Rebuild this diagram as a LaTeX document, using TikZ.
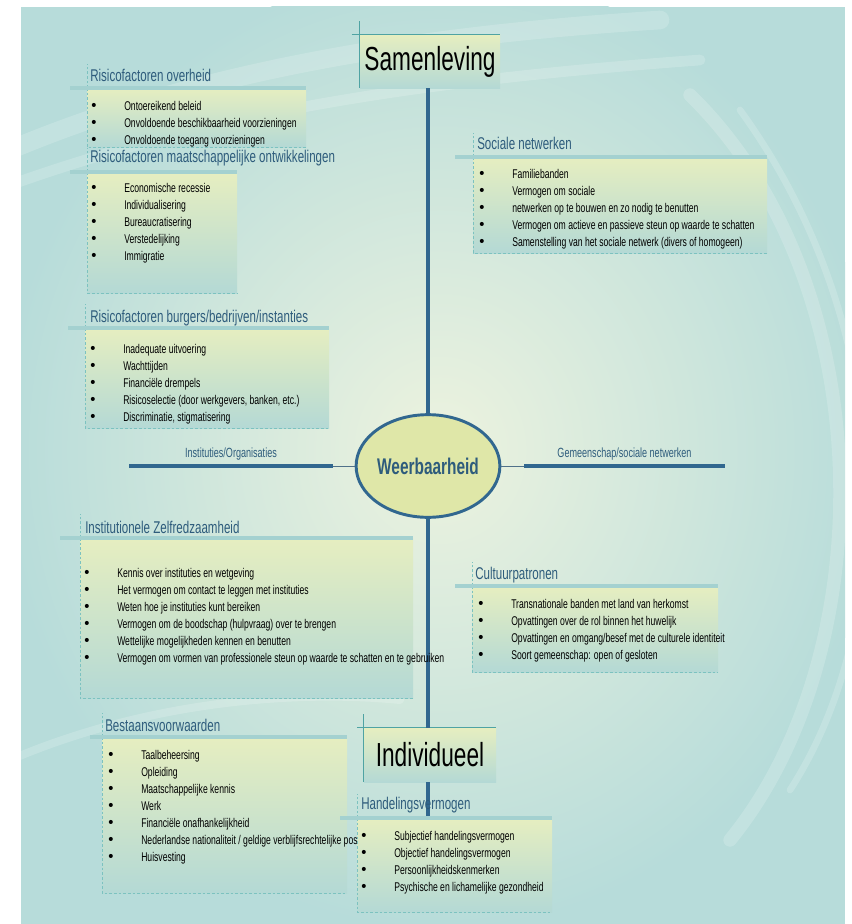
\documentclass[tikz,border=0pt]{standalone}
\usepackage{fontspec}
\setmainfont{Liberation Sans}[FakeStretch=0.68]
\usetikzlibrary{shapes.geometric}

\definecolor{bgteal}{HTML}{B7DCDA}
\definecolor{glow}{HTML}{EDF3DF}
\definecolor{boxtop}{HTML}{E6EEC0}
\definecolor{boxbottom}{HTML}{B4D9D5}
\definecolor{titleblue}{HTML}{2E5C7C}
\definecolor{lineblue}{HTML}{31678F}
\definecolor{corefill}{HTML}{DFE7A8}
\definecolor{accentteal}{HTML}{4FA3A3}
\definecolor{dashteal}{HTML}{7CC2C0}
\definecolor{bandteal}{HTML}{A4D1D0}

\newcommand\itemfont{\fontsize{9.5}{12.75}\selectfont}
\newcommand\titlefont{\fontsize{12.75}{15}\selectfont}
\newcommand\levelfont{\fontsize{25}{30}\selectfont}
\newcommand\corefont{\fontsize{17}{20}\selectfont\bfseries}
\newcommand\blt{\strut\makebox[24.75pt][l]{\scalebox{1.7}[1.2]{\textbullet}}}

\tikzset{
    boxshade/.style={top color=boxtop, bottom color=boxbottom},
    boxedge/.style={draw=dashteal, line width=0.6pt, dash pattern=on 2pt off 1.5pt},
    band/.style={draw=bandteal, line width=3pt},
    grouptitle/.style={anchor=west, inner sep=0pt, text=titleblue, font=\titlefont},
    itemlist/.style={anchor=north west, inner sep=0pt, align=left, font=\itemfont},
    levelbox/.style={top color=boxtop, bottom color=boxbottom, inner sep=0pt, font=\levelfont},
    accent/.style={draw=accentteal, line width=0.8pt},
    core/.style={ellipse, draw=lineblue, line width=2.2pt, fill=corefill, inner sep=0pt,
        minimum width=102pt, minimum height=77pt, text=titleblue, font=\corefont},
    spoke/.style={draw=lineblue, line width=2.4pt},
    thinspoke/.style={draw=lineblue!60!gray, line width=0.7pt},
    axislabel/.style={inner sep=0pt, text=titleblue, font=\fontsize{10}{12}\selectfont},
    swoosh/.style={draw=white, opacity=0.18, line cap=round}
}

\begin{document}
\begin{tikzpicture}[x=0.75pt, y=-0.75pt]

	\useasboundingbox (0,0) rectangle (852,924);

	\def\groupbox#1#2#3#4#5#6{
		\coordinate (#1NW) at (#2,#3);
		\coordinate (#1SE) at (#4,#5);
		\shade[ boxshade ] (#1NW) rectangle (#1SE);
		\draw[ boxedge ] (#1NW) |- (#1SE);
		\draw[ boxedge ] (#1NW) -- ++(0,-24);
		\draw[ band ] (#6,#3) -- (#1NW -| #1SE);
	}

	\fill[ bgteal ] (21,7) rectangle (845,924);

	\begin{scope}
		\clip (21,7) rectangle (845,924);
		\shade[ inner color=glow, outer color=bgteal ] (440,450) ellipse (330pt and 360pt);
		\draw[ swoosh, line width=14pt ] (10,150) .. controls (200,70) and (420,35) .. (660,20);
		\draw[ swoosh, line width=8pt ] (10,185) .. controls (220,110) and (430,80) .. (700,60);
		\draw[ swoosh, line width=10pt ] (690,95) .. controls (880,280) and (885,650) .. (730,840);
		\draw[ swoosh, line width=5pt ] (740,110) .. controls (900,330) and (900,620) .. (790,790);
		\draw[ swoosh, line width=6pt ] (10,760) .. controls (150,700) and (300,690) .. (400,700);
	\end{scope}

	% axes
	\node[ levelbox, minimum width=105pt, minimum height=40pt ] (sam) at (430,61.5) {Samenleving};
	\node[ levelbox, minimum width=99pt, minimum height=40.5pt ] (indiv) at (430,755) {Individueel};
	\node[ core ] (weer) at (428,466) {Weerbaarheid};

	\draw[ accent ] ([xshift=-6pt]sam.north west) -- (sam.north east);
	\draw[ accent ] ([yshift=10pt]sam.north west) -- (sam.south west);
	\draw[ accent ] ([xshift=-5pt]indiv.north west) -- (indiv.north east);
	\draw[ accent ] ([yshift=10pt]indiv.north west) -- (indiv.south west);

	\coordinate (instEnd) at (129,466);
	\coordinate (instJoin) at (333,466);
	\coordinate (gemJoin) at (524,466);
	\coordinate (gemEnd) at (725,466);
	\coordinate (hvTop) at (428,818);

	\draw[ spoke ] (weer.north |- sam.south) -- (weer.north);
	\draw[ spoke ] (weer.south) -- (weer.south |- indiv.north);
	\draw[ spoke ] (weer.south |- indiv.south) -- (hvTop);

	\draw[ spoke ] (instEnd) -- node[ axislabel, above=3pt ] (instLabel) {Instituties/Organisaties} (instJoin);
	\draw[ thinspoke ] (instJoin) -- (weer.west);
	\draw[ thinspoke ] (weer.east) -- (gemJoin);
	\draw[ spoke ] (gemJoin) -- node[ axislabel, above=3pt ] (gemLabel) {Gemeenschap/sociale netwerken} (gemEnd);

	% risicofactoren
	\groupbox{ov}{87}{88}{306}{147}{70}
	\node[ grouptitle ] (ovTitle) at (90,75) {Risicofactoren overheid};
	\node[ itemlist ] (ovList) at (91,98) {\blt Ontoereikend beleid\\ \blt Onvoldoende beschikbaarheid voorzieningen\\ \blt Onvoldoende toegang voorzieningen};

	\groupbox{mo}{87}{172}{237}{293}{70}
	\node[ grouptitle ] (moTitle) at (90,158) {Risicofactoren maatschappelijke ontwikkelingen};
	\node[ itemlist ] (moList) at (91,180) {\blt Economische recessie\\ \blt Individualisering\\ \blt Bureaucratisering\\ \blt Verstedelijking\\ \blt Immigratie};

	\groupbox{bu}{85}{328}{329}{428}{68}
	\node[ grouptitle ] (buTitle) at (90,318) {Risicofactoren burgers/bedrijven/instanties};
	\node[ itemlist ] (buList) at (90,341) {\blt Inadequate uitvoering\\ \blt Wachttijden\\ \blt Financiële drempels\\ \blt Risicoselectie (door werkgevers, banken, etc.)\\ \blt Discriminatie, stigmatisering};

	\groupbox{iz}{80}{538}{413}{698}{60}
	\node[ grouptitle ] (izTitle) at (85,527) {Institutionele Zelfredzaamheid};
	\node[ itemlist ] (izList) at (84,565) {\blt Kennis over instituties en wetgeving\\ \blt Het vermogen om contact te leggen met instituties\\ \blt Weten hoe je instituties kunt bereiken\\ \blt Vermogen om de boodschap (hulpvraag) over te brengen\\ \blt Wettelijke mogelijkheden kennen en benutten\\ \blt Vermogen om vormen van professionele steun op waarde te schatten en te gebruiken};

	% sociale kant
	\groupbox{sn}{473}{157}{767}{253}{455}
	\node[ grouptitle ] (snTitle) at (477,143) {Sociale netwerken};
	\node[ itemlist ] (snList) at (479,166) {\blt Familiebanden\\ \blt Vermogen om sociale\\ \blt netwerken op te bouwen en zo nodig te benutten\\ \blt Vermogen om actieve en passieve steun op waarde te schatten\\ \blt Samenstelling van het sociale netwerk (divers of homogeen)};

	\groupbox{cu}{472}{586}{718}{672}{455}
	\node[ grouptitle ] (cuTitle) at (475,575) {Cultuurpatronen};
	\node[ itemlist ] (cuList) at (478,596) {\blt Transnationale banden met land van herkomst\\ \blt Opvattingen over de rol binnen het huwelijk\\ \blt Opvattingen en omgang/besef met de culturele identiteit\\ \blt Soort gemeenschap: open of gesloten};

	% individueel
	\groupbox{be}{102}{737}{347}{893}{90}
	\node[ grouptitle ] (beTitle) at (105,725) {Bestaansvoorwaarden};
	\node[ itemlist ] (beList) at (108,747) {\blt Taalbeheersing\\ \blt Opleiding\\ \blt Maatschappelijke kennis\\ \blt Werk\\ \blt Financiële onafhankelijkheid\\ \blt Nederlandse nationaliteit / geldige verblijfsrechtelijke pos\\ \blt Huisvesting};

	\groupbox{hv}{357}{818}{552}{912}{340}
	\node[ grouptitle ] (hvTitle) at (361,805) {Handelingsvermogen};
	\node[ itemlist ] (hvList) at (361,828) {\blt Subjectief handelingsvermogen\\ \blt Objectief handelingsvermogen\\ \blt Persoonlijkheidskenmerken\\ \blt Psychische en lichamelijke gezondheid};

\end{tikzpicture}
\end{document}
